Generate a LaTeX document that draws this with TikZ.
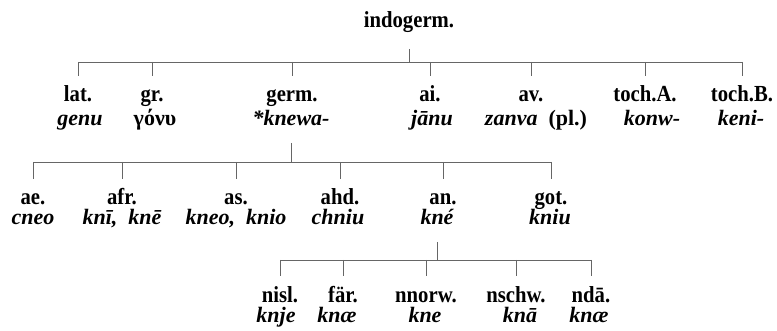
\documentclass[tikz,border=0pt]{standalone}
\usepackage{fontspec}
\setmainfont{Liberation Serif}
\newfontfamily\labfont[FakeStretch=0.9]{Liberation Serif}
\newcommand{\wsp}{\hspace{0.5em}}
\begin{document}
\begin{tikzpicture}[x=1pt,y=-1pt,
  lab/.style={anchor=base,inner xsep=0pt,inner ysep=0pt,text height=16pt,text depth=5pt,outer ysep=10pt,font=\labfont\fontsize{23}{27}\selectfont\bfseries},
  wrd/.style={anchor=base,inner xsep=0pt,inner ysep=0pt,text height=15pt,text depth=5pt,outer ysep=12pt,font=\fontsize{22}{26}\selectfont\bfseries\itshape},
  ln/.style={draw=black!60,line width=0.8pt}]
\useasboundingbox (0,0) rectangle (777,331);
% root
\node[lab,outer ysep=16pt] (root) at (409,28) {indogerm.};
% row 1
\node[lab] (lat) at (78,102) {lat.};
\node[lab] (gr) at (152,102) {gr.};
\node[lab] (germ) at (292,102) {germ.};
\node[lab] (ai) at (430,102) {ai.};
\node[lab] (av) at (531,102) {av.};
\node[lab] (tochA) at (645,102) {toch.A.};
\node[lab] (tochB) at (742,102) {toch.B.};
\node[wrd] (genu) at (80,126) {genu};
\node[wrd,font=\fontsize{22}{26}\selectfont\bfseries] (gonu) at (155,126) {γόνυ};
\node[wrd] (knewa) at (291,126) {*knewa-};
\node[wrd] (janu) at (432,126) {jānu};
\node[wrd] (zanva) at (536,126) {zanva\wsp{\upshape(pl.)}};
\node[wrd] (konw) at (652,126) {konw-};
\node[wrd] (keni) at (741,126) {keni-};
% row 2
\node[lab] (ae) at (33,205) {ae.};
\node[lab] (afr) at (122,205) {afr.};
\node[lab] (as) at (236,205) {as.};
\node[lab] (ahd) at (340,205) {ahd.};
\node[lab] (an) at (443,205) {an.};
\node[lab] (got) at (551,205) {got.};
\node[wrd] (cneo) at (33,225) {cneo};
\node[wrd] (kni) at (122,225) {knī,\wsp knē};
\node[wrd] (kneo) at (236,225) {kneo,\wsp knio};
\node[wrd] (chniu) at (338,225) {chniu};
\node[wrd] (kne) at (437,225) {kné};
\node[wrd] (kniu) at (550,225) {kniu};
% row 3
\node[lab] (nisl) at (280,302) {nisl.};
\node[lab] (far) at (343,302) {fär.};
\node[lab] (nnorw) at (426,302) {nnorw.};
\node[lab] (nschw) at (516,302) {nschw.};
\node[lab] (nda) at (591,302) {ndā.};
\node[wrd] (knje) at (276,323) {knje};
\node[wrd] (knae) at (337,323) {knæ};
\node[wrd] (kne2) at (425,323) {kne};
\node[wrd] (kna) at (520,323) {knā};
\node[wrd] (knae2) at (589,323) {knæ};
% bars
\coordinate (b1) at (0,62);
\coordinate (b2) at (0,162);
\coordinate (b3) at (0,260);
\draw[ln] (root.south) -- (root.south |- b1);
\draw[ln] (lat.north |- b1) -- (tochB.north |- b1);
\foreach \n in {lat,gr,germ,ai,av,tochA,tochB} \draw[ln] (\n.north |- b1) -- (\n.north);
\draw[ln] (knewa.south) -- (knewa.south |- b2);
\draw[ln] (ae.north |- b2) -- (got.north |- b2);
\foreach \n in {ae,afr,as,ahd,an,got} \draw[ln] (\n.north |- b2) -- (\n.north);
\draw[ln] (kne.south) -- (kne.south |- b3);
\draw[ln] (nisl.north |- b3) -- (nda.north |- b3);
\foreach \n in {nisl,far,nnorw,nschw,nda} \draw[ln] (\n.north |- b3) -- (\n.north);
\end{tikzpicture}
\end{document}
